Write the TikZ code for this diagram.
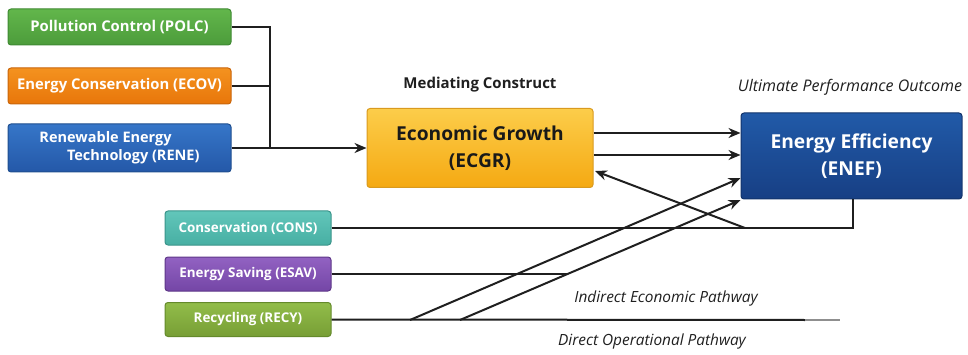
\documentclass[tikz,border=0pt]{standalone}
\usepackage{fontspec}
\setmainfont{Open Sans}
\usetikzlibrary{arrows.meta}
\usetikzlibrary{calc}
\usepackage{xcolor}

% box colours
\definecolor{polcTop}{HTML}{62B64B}\definecolor{polcBot}{HTML}{4C9C3B}\definecolor{polcEdge}{HTML}{3F8A32}
\definecolor{ecovTop}{HTML}{F4921F}\definecolor{ecovBot}{HTML}{E8760A}\definecolor{ecovEdge}{HTML}{C9650A}
\definecolor{reneTop}{HTML}{3676C8}\definecolor{reneBot}{HTML}{2458A8}\definecolor{reneEdge}{HTML}{1F4E8F}
\definecolor{ecgrTop}{HTML}{FCCD4A}\definecolor{ecgrBot}{HTML}{F5A912}\definecolor{ecgrEdge}{HTML}{D99A1E}
\definecolor{enefTop}{HTML}{215AA8}\definecolor{enefBot}{HTML}{173F84}\definecolor{enefEdge}{HTML}{12336B}
\definecolor{consTop}{HTML}{62C6BA}\definecolor{consBot}{HTML}{47AFA3}\definecolor{consEdge}{HTML}{3A948A}
\definecolor{esavTop}{HTML}{9262C2}\definecolor{esavBot}{HTML}{7446A6}\definecolor{esavEdge}{HTML}{5E3788}
\definecolor{recyTop}{HTML}{92BD4A}\definecolor{recyBot}{HTML}{779E35}\definecolor{recyEdge}{HTML}{648A2B}
\definecolor{lineCol}{HTML}{1F1F1F}

\begin{document}
\begin{tikzpicture}[x=1pt, y=-1pt]
        % ================= 样式 =================
        \tikzset{
            % 彩色方框
            cbox/.style={rectangle, rounded corners=3pt, line width=1pt, inner sep=2pt, text=white, align=center},
            inbox/.style={cbox, minimum width=223pt, minimum height=36pt, font=\bfseries\fontsize{14.8}{19}\selectfont},
            lowbox/.style={cbox, minimum width=166pt, minimum height=34pt, font=\bfseries\fontsize{13.4}{16}\selectfont},
            bigbox/.style={cbox, font=\bfseries\fontsize{19.2}{27}\selectfont},
            % 连线
            link/.style={line width=2pt, lineCol},
            arr/.style={link, -{Stealth[length=12pt, width=10pt]}},
            tag/.style={text=lineCol}
        }
        \useasboundingbox (0,0) rectangle (968,355);

        % ================= 节点 =================
        % 左侧输入
        \node[inbox, draw=polcEdge, top color=polcTop, bottom color=polcBot] (polc) at (119.5,27) {Pollution Control (POLC)};
        \node[inbox, draw=ecovEdge, top color=ecovTop, bottom color=ecovBot] (ecov) at (119.5,86) {Energy Conservation (ECOV)};
        \node[inbox, draw=reneEdge, top color=reneTop, bottom color=reneBot, minimum height=48pt, align=left, font=\bfseries\fontsize{14.5}{19}\selectfont] (rene) at (119.5,148) {Renewable Energy\\[-1pt]\hspace*{1.9em}Technology (RENE)};

        % 中介与结果
        \node[bigbox, draw=ecgrEdge, top color=ecgrTop, bottom color=ecgrBot, text=black!90, minimum width=226pt, minimum height=79pt] (ecgr) at (480,148) {Economic Growth\\(ECGR)};
        \node[bigbox, draw=enefEdge, top color=enefTop, bottom color=enefBot, minimum width=221pt, minimum height=86pt] (enef) at (851.5,156) {Energy Efficiency\\(ENEF)};

        % 下方输入
        \node[lowbox, draw=consEdge, top color=consTop, bottom color=consBot] (cons) at (248,228) {Conservation (CONS)};
        \node[lowbox, draw=esavEdge, top color=esavTop, bottom color=esavBot] (esav) at (248,274) {Energy Saving (ESAV)};
        \node[lowbox, draw=recyEdge, top color=recyTop, bottom color=recyBot] (recy) at (248,319.5) {Recycling (RECY)};

        % 标题文字
        \node[tag, font=\bfseries\fontsize{15}{17}\selectfont] (medi) at (480,85) {Mediating Construct};
        \node[tag, font=\itshape\fontsize{16}{18}\selectfont] (ulti) at (850,87) {Ultimate Performance Outcome};
        \node[tag, font=\itshape\fontsize{15.4}{17}\selectfont] (indi) at (666,299) {Indirect Economic Pathway};
        \node[tag, font=\itshape\fontsize{15.4}{17}\selectfont] (dire) at (652,342) {Direct Operational Pathway};

        % ================= 坐标 =================
        \coordinate (jn) at (270,148);
        \coordinate (fb) at (853,228);
        \coordinate (fbs) at (745,228);
        \coordinate (esavEnd) at (568,274);
        \coordinate (recyEnd) at (805,320);
        \coordinate (recyFade) at (840,320);
        \coordinate (d1) at (410,320);
        \coordinate (d2) at (460,320);

        % ================= 连线 =================
        % 左侧汇合到 ECGR
        \draw[link] (polc.east) -| (jn);
        \draw[link] (ecov.east) -| (jn);
        \draw[arr] (rene.east) -- (ecgr.west);

        % ECGR -> ENEF
        \draw[arr] (ecgr.east |- 0,133) -- (enef.west |- 0,133);
        \draw[arr] (ecgr.east |- 0,155) -- (enef.west |- 0,155);

        % CONS 与 ENEF 底部相连, 回指 ECGR
        \draw[link] (cons.east) -- (fb) -- (enef.south -| fb);
        \draw[arr] (fbs) -- (595,171);

        % ESAV, RECY
        \draw[link] (esav.east) -- (esavEnd);
        \draw[link] (recy.east) -- (recyEnd);
        \draw[link, lineCol!50] (recyEnd) -- (recyFade);

        % 斜向箭头
        \draw[arr] (d1) -- (enef.west |- 0,178);
        \draw[arr] (d2) -- (enef.west |- 0,200);

    \end{tikzpicture}
\end{document}
